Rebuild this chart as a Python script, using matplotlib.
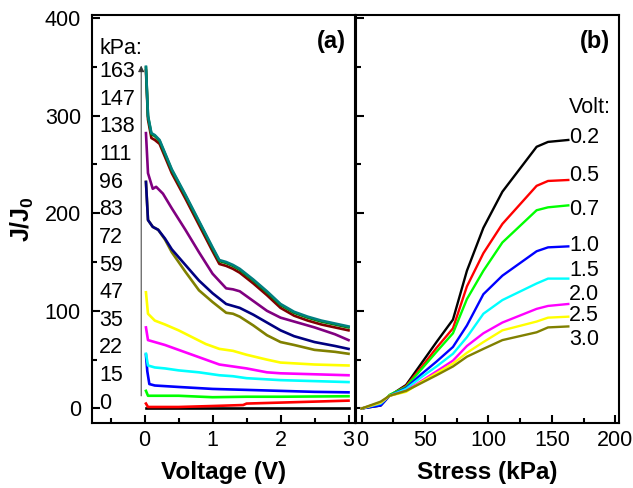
import matplotlib.pyplot as plt
from matplotlib.ticker import MultipleLocator

plt.rcParams['font.family'] = ['Liberation Sans', 'DejaVu Sans']
plt.rcParams['mathtext.fontset'] = 'custom'
plt.rcParams['mathtext.rm'] = 'Liberation Sans'
plt.rcParams['mathtext.bf'] = 'Liberation Sans:bold'

# ---- (a) J/J0 against voltage, one trace per applied stress ----
v_0 = [0.02, 3.0]
j_0 = [0, 0]
v_15 = [0.02, 0.05, 0.5, 1.0, 1.45, 1.5, 2.0, 2.5, 3.0]
j_15 = [5, 1.5, 1.5, 2.5, 3.5, 5, 6, 7, 8]
v_22 = [0.02, 0.05, 0.5, 1.0, 1.5, 2.0, 3.0]
j_22 = [18, 13, 13, 11.5, 12, 12, 12.5]
v_35 = [0.02, 0.04, 0.07, 0.15, 0.5, 1.0, 1.5, 2.0, 2.5, 3.0]
j_35 = [55, 38, 25, 23.5, 22, 20, 19, 18, 17, 16.5]
v_47 = [0.02, 0.05, 0.15, 0.3, 0.5, 0.8, 1.1, 1.3, 1.5, 2.0, 2.5, 3.0]
j_47 = [56, 44, 42, 41, 39, 37, 34, 33, 31, 29, 28, 27]
v_59 = [0.02, 0.05, 0.15, 0.3, 0.5, 0.7, 0.9, 1.1, 1.3, 1.5, 1.8, 2.0, 2.5, 3.0]
j_59 = [83, 70, 68, 65, 60, 55, 50, 45, 43, 41, 37, 36, 35, 34]
v_72 = [0.02, 0.05, 0.15, 0.3, 0.5, 0.7, 0.9, 1.1, 1.2, 1.3, 1.5, 1.8, 2.0, 2.5, 3.0]
j_72 = [119, 97, 90, 86, 80, 73, 66, 61, 60, 59, 55, 50, 47, 45, 44]
v_83 = [0.02, 0.05, 0.12, 0.2, 0.3, 0.4, 0.6, 0.8, 1.0, 1.2, 1.3, 1.4, 1.6, 1.8, 2.0, 2.2, 2.5, 2.8, 3.0]
j_83 = [232, 193, 186, 183, 173, 160, 140, 121, 109, 98, 97, 94, 85, 75, 68, 65, 60, 58, 56]
v_96 = [0.02, 0.05, 0.12, 0.2, 0.3, 0.4, 0.6, 0.8, 1.0, 1.2, 1.3, 1.4, 1.6, 1.8, 2.0, 2.2, 2.5, 2.8, 3.0]
j_96 = [232, 193, 186, 183, 174, 163, 147, 131, 118, 107, 105, 103, 96, 88, 80, 74, 68, 64, 61]
v_111 = [0.02, 0.05, 0.12, 0.17, 0.27, 0.4, 0.6, 0.8, 1.0, 1.2, 1.3, 1.4, 1.6, 1.8, 2.0, 2.2, 2.5, 2.8, 3.0]
j_111 = [282, 241, 225, 227, 220, 205, 183, 160, 138, 123, 122, 120, 110, 100, 93, 89, 83, 76, 70]
v_138 = [0.02, 0.05, 0.1, 0.15, 0.22, 0.4, 0.6, 0.8, 1.0, 1.1, 1.2, 1.3, 1.4, 1.6, 1.8, 2.0, 2.2, 2.4, 2.6, 2.8, 3.0]
j_138 = [346, 296, 277, 275, 271, 241, 215, 188, 161, 148, 146, 143, 139, 128, 116, 103, 95, 90, 86, 83, 80]
v_147 = [0.02, 0.05, 0.1, 0.15, 0.22, 0.4, 0.6, 0.8, 1.0, 1.1, 1.2, 1.3, 1.4, 1.6, 1.8, 2.0, 2.2, 2.4, 2.6, 2.8, 3.0]
j_147 = [349, 299, 281, 279, 274, 244, 218, 191, 164, 151, 149, 146, 142, 131, 119, 106, 98, 93, 89, 86, 83]
v_163 = [0.02, 0.05, 0.1, 0.15, 0.22, 0.4, 0.6, 0.8, 1.0, 1.1, 1.2, 1.3, 1.4, 1.6, 1.8, 2.0, 2.2, 2.4, 2.6, 2.8, 3.0]
j_163 = [350, 300, 282, 280, 275, 245, 219, 192, 165, 152, 150, 147, 143, 132, 120, 107, 99, 94, 90, 87, 84]

traces_a = [
    (v_0, j_0, 'black'),
    (v_15, j_15, '#ff0000'),
    (v_22, j_22, '#00ff00'),
    (v_35, j_35, '#0000ff'),
    (v_47, j_47, '#00ffff'),
    (v_59, j_59, '#ff00ff'),
    (v_72, j_72, '#ffff00'),
    (v_83, j_83, '#808000'),
    (v_96, j_96, '#000080'),
    (v_111, j_111, '#800080'),
    (v_138, j_138, '#800000'),
    (v_147, j_147, '#008000'),
    (v_163, j_163, '#008080'),
]
stress_labels = ['163', '147', '138', '111', '96', '83', '72', '59', '47', '35', '22', '15', '0']

# ---- (b) J/J0 against stress, one trace per voltage ----
stress = [0, 15, 22, 35, 47, 59, 72, 83, 96, 111, 138, 147, 163]
j_02 = [0, 3, 13, 24, 46, 68, 91, 141, 185, 222, 268, 273, 275]
j_05 = [0, 4, 13, 23, 42, 62, 82, 125, 159, 189, 228, 233, 234]
j_07 = [0, 4, 14, 22, 40, 58, 77, 112, 141, 170, 203, 206, 208]
j_10 = [0, 3, 13, 21, 35, 48, 63, 85, 117, 136, 161, 165, 166]
j_15v = [0, 5, 13, 20, 32, 43, 56, 73, 97, 111, 128, 133, 133]
j_20 = [0, 6, 13, 18, 28, 38, 49, 64, 77, 88, 102, 105, 107]
j_25 = [0, 6, 13, 17, 27, 36, 46, 57, 68, 80, 89, 93, 94]
j_30 = [0, 7, 13, 18, 26, 34, 43, 53, 61, 70, 78, 83, 84]

traces_b = [
    (j_02, 'black', '0.2', 278),
    (j_05, '#ff0000', '0.5', 239),
    (j_07, '#00ff00', '0.7', 204),
    (j_10, '#0000ff', '1.0', 167),
    (j_15v, '#00ffff', '1.5', 141),
    (j_20, '#ff00ff', '2.0', 117),
    (j_25, '#ffff00', '2.5', 95),
    (j_30, '#808000', '3.0', 71),
]

fig = plt.figure(figsize=(6.33, 4.88), dpi=100)
ax1 = fig.add_axes([0.1453, 0.1330, 0.4155, 0.8363])
ax2 = fig.add_axes([0.5624, 0.1330, 0.4155, 0.8363], sharey=ax1)

for v, j, c in traces_a:
    ax1.plot(v, j, color=c, lw=1.9)

ax1.annotate('', xy=(-0.05, 354), xytext=(-0.05, 10),
             arrowprops=dict(arrowstyle='-|>', color='0.2', lw=0.7, mutation_scale=9))
ax1.text(-0.67, 369, 'kPa:', fontsize=15.5, va='center', ha='left')
for i, s in enumerate(stress_labels):
    ax1.text(-0.67, 345 - i * 28.3, s, fontsize=15.5, va='center', ha='left')
ax1.text(2.96, 376, '(a)', fontsize=17, fontweight='bold', ha='right', va='center')

ax1.set_xlim(-0.774, 3.095)
ax1.set_ylim(-15, 403)
ax1.xaxis.set_major_locator(MultipleLocator(1))
ax1.xaxis.set_minor_locator(MultipleLocator(0.5))
ax1.yaxis.set_major_locator(MultipleLocator(100))
ax1.yaxis.set_minor_locator(MultipleLocator(50))
ax1.set_xlabel('Voltage (V)', fontsize=17.5, fontweight='bold', labelpad=7)
ax1.set_ylabel(r'$\mathbf{J/J_0}$', fontsize=18, labelpad=6)

for j, c, lab, ly in traces_b:
    ax2.plot(stress, j, color=c, lw=1.7)
    ax2.text(163.5, ly, lab, fontsize=15.5, va='center', ha='left')
ax2.text(163.5, 308, 'Volt:', fontsize=15.5, va='center', ha='left')
ax2.text(196, 376, '(b)', fontsize=17, fontweight='bold', ha='right', va='center')

ax2.set_xlim(-4.5, 203)
ax2.xaxis.set_major_locator(MultipleLocator(50))
ax2.xaxis.set_minor_locator(MultipleLocator(25))
ax2.set_xlabel('Stress (kPa)', fontsize=17.5, fontweight='bold', labelpad=7)
ax2.tick_params(axis='y', which='both', labelleft=False)

for ax in (ax1, ax2):
    for sp in ax.spines.values():
        sp.set_linewidth(1.5)
    ax.tick_params(which='major', direction='in', length=6, width=1.5, labelsize=15.5)
    ax.tick_params(which='minor', direction='in', length=3.5, width=1.5)
    ax.tick_params(axis='x', pad=5)
    ax.tick_params(axis='y', pad=8)

fig.savefig('out.png', dpi=100)
